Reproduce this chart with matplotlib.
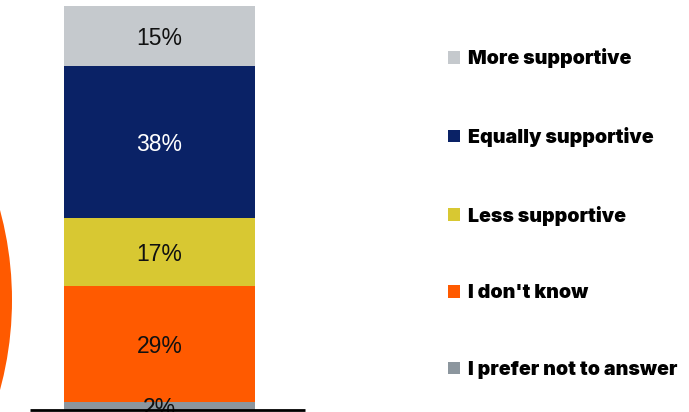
import matplotlib
matplotlib.use("Agg")
import matplotlib.pyplot as plt
from matplotlib.patches import Wedge, Patch

# Share of respondents by level of support (stacked bottom to top)
categories = ["I prefer not to answer", "I don't know", "Less supportive",
              "Equally supportive", "More supportive"]
values = [2, 29, 17, 38, 15]
labels = ["2%", "29%", "17%", "38%", "15%"]
colors = ["#8C969E", "#FF5A00", "#D8C832", "#0A2266", "#C5C9CD"]
label_colors = ["#111111", "#111111", "#111111", "#FFFFFF", "#111111"]

W, H = 689, 412
fig = plt.figure(figsize=(W / 100, H / 100), dpi=100)
fig.patch.set_facecolor("white")

# Main axes: x in pixel units, y in percent (4 px per percent point)
ax = fig.add_axes([0, 0, 1, 1])
ax.set_xlim(0, W)
ax.set_ylim(-0.5, 102.5)
ax.axis("off")

bar_x = 159.5
bar_w = 191
bottom = 0
handles = []
for cat, val, lab, col, tcol in zip(categories, values, labels, colors, label_colors):
    ax.bar(bar_x, val, width=bar_w, bottom=bottom, color=col,
           edgecolor="none", label=cat, zorder=2)
    ax.annotate(lab, (bar_x, bottom + val / 2), xytext=(0, -1.5),
                textcoords="offset points", ha="center", va="center",
                fontsize=16.5, color=tcol, family="Liberation Sans", zorder=3)
    handles.append(Patch(facecolor=col, edgecolor="none", label=cat))
    bottom += val

# Baseline
ax.plot([30, 305], [0, 0], color="black", lw=2, zorder=4, solid_capstyle="butt")

# Edge of the neighbouring pie, in pixel coordinates
ax_pie = fig.add_axes([0, 0, 1, 1], zorder=-1)
ax_pie.set_xlim(0, W)
ax_pie.set_ylim(0, H)
ax_pie.axis("off")
ax_pie.add_patch(Wedge((-331.5, H - 300), 343.5, 0, 360, color="#FF5A00", lw=0))

# Legend (top to bottom)
fig.legend(handles[::-1], [h.get_label() for h in handles[::-1]],
           loc="upper left", bbox_to_anchor=(448 / W, 1 - 48.5 / H),
           frameon=False, borderpad=0, borderaxespad=0,
           handlelength=0.61, handleheight=0.61, handletextpad=0.41,
           labelspacing=2.99,
           prop={"family": "Inter", "weight": "black", "size": 14.1})

fig.savefig("out.png", dpi=100, facecolor="white")
